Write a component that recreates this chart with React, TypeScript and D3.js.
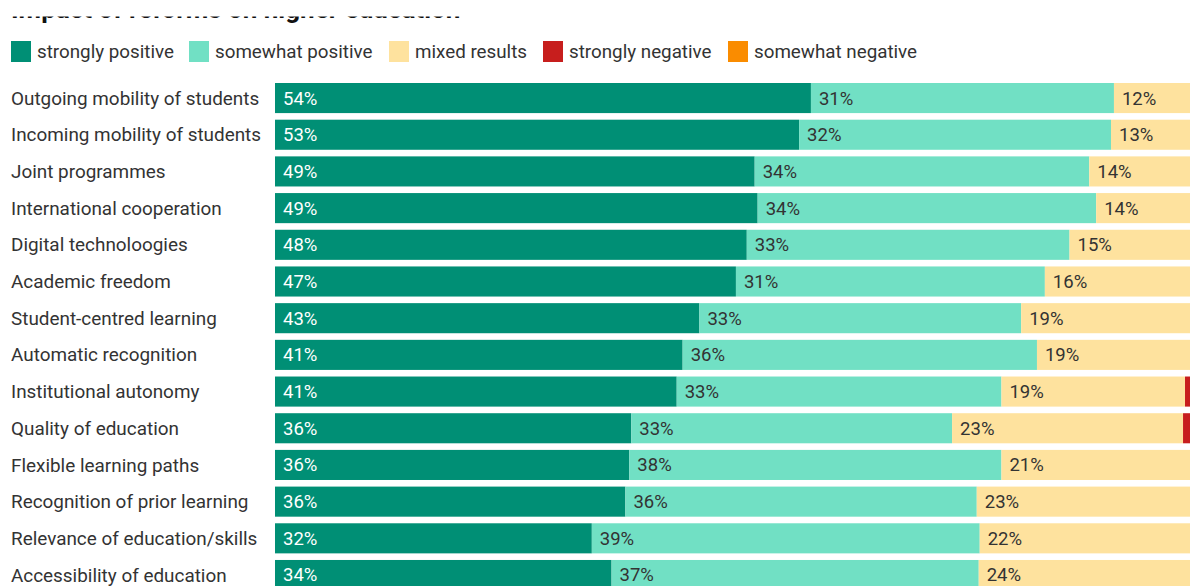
import React from "react";
import * as d3 from "d3";

const categories = [
  "Outgoing mobility of students",
  "Incoming mobility of students",
  "Joint programmes",
  "International cooperation",
  "Digital technoloogies",
  "Academic freedom",
  "Student-centred learning",
  "Automatic recognition",
  "Institutional autonomy",
  "Quality of education",
  "Flexible learning paths",
  "Recognition of prior learning",
  "Relevance of education/skills",
  "Accessibility of education",
];

const seriesNames = [
  "strongly positive",
  "somewhat positive",
  "mixed results",
  "strongly negative",
  "somewhat negative",
];

const stronglyPositive = [54.3, 53.1, 48.6, 48.9, 47.8, 46.7, 43.0, 41.3, 40.7, 36.1, 35.9, 35.5, 32.1, 34.1];
const somewhatPositive = [30.7, 31.6, 33.9, 34.3, 32.7, 31.3, 32.6, 35.9, 32.9, 32.5, 37.7, 35.6, 39.3, 37.2];
const mixedResults = [12, 13, 14, 14, 15, 16, 19, 19, 18.6, 23.4, 21, 23, 22, 24];
const stronglyNegative = [2, 1, 2, 2, 2, 3, 3, 2, 4, 5, 3, 3, 4, 3];
const somewhatNegative = [1, 1, 1, 1, 2, 3, 2, 2, 3, 3, 3, 3, 3, 2];

const colors = ["#008f75", "#71e0c4", "#fee29e", "#c71e1d", "#fa8c00"];
const labelColors = ["#ffffff", "#333333", "#333333", "#ffffff", "#333333"];

const title = "Impact of reforms on higher education";

const W = 1190;
const H = 586;
const FONT = "Roboto, 'Noto Sans', sans-serif";

export default function App() {
  const rows = categories.map((c, i) => ({
    category: c,
    values: [stronglyPositive[i], somewhatPositive[i], mixedResults[i], stronglyNegative[i], somewhatNegative[i]],
  }));

  const x = d3.scaleLinear().domain([0, 100]).range([275, 275 + 987]);
  const step = 36.69;
  const y = d3
    .scaleBand<string>()
    .domain(categories)
    .range([79.7, 79.7 + categories.length * step])
    .paddingInner(0.18)
    .paddingOuter(0.09);

  const legendX = [11, 189, 389, 543, 728];

  return (
    <div style={{ position: "absolute", left: 0, top: 0, width: W, height: H, overflow: "hidden" }}>
      <svg width={W} height={H} style={{ display: "block", fontFamily: FONT }}>
        <rect x={0} y={0} width={W} height={H} fill="#fff" />
        <text x={11} y={17.5} fontSize={26} fontWeight={700} fill="#111">
          {title}
        </text>
        <rect x={0} y={0} width={W} height={16.5} fill="#fff" />
        {seriesNames.map((s, i) => (
          <g key={s}>
            <rect x={legendX[i]} y={41} width={20} height={21} fill={colors[i]} />
            <text x={legendX[i] + 26} y={57.5} fontSize={18.8} fill="#333">
              {s}
            </text>
          </g>
        ))}
        {rows.map((r) => {
          const y0 = y(r.category)!;
          const bh = y.bandwidth();
          let acc = 0;
          return (
            <g key={r.category}>
              <text x={11} y={y0 + bh / 2} dy="0.35em" fontSize={18.9} fill="#333">
                {r.category}
              </text>
              {r.values.map((v, k) => {
                const x0 = x(acc);
                acc += v;
                const x1 = x(acc);
                return (
                  <g key={k}>
                    <rect x={x0} y={y0} width={Math.max(0, x1 - x0)} height={bh} fill={colors[k]} />
                    {k < 3 && (
                      <text x={x0 + 8} y={y0 + bh / 2} dy="0.35em" fontSize={18.5} fill={labelColors[k]}>
                        {Math.round(v)}%
                      </text>
                    )}
                  </g>
                );
              })}
            </g>
          );
        })}
      </svg>
    </div>
  );
}
